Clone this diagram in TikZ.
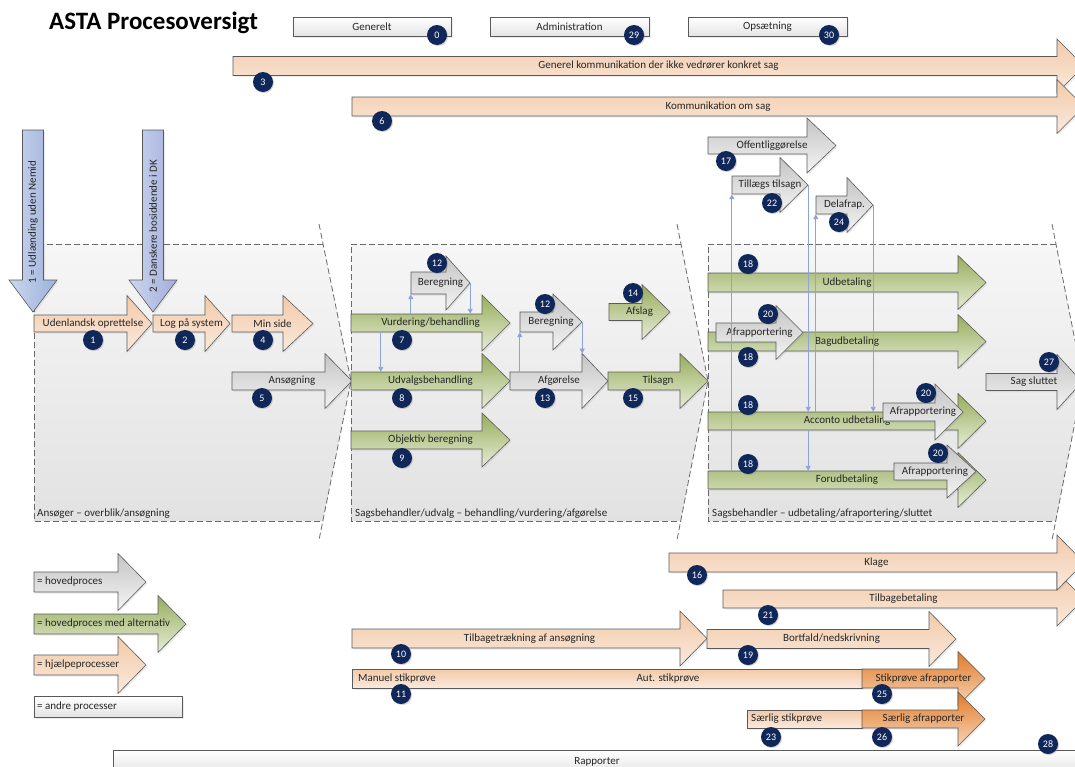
\documentclass[tikz,border=0pt]{standalone}
\usepackage{fontspec}
\setmainfont{Carlito}
\usetikzlibrary{arrows.meta,shadows}

\definecolor{peachT}{HTML}{F2CAA8}
\definecolor{peachB}{HTML}{FAE9DD}
\definecolor{grayT}{HTML}{C4C4C4}
\definecolor{grayB}{HTML}{F4F4F4}
\definecolor{greenT}{HTML}{97AD5C}
\definecolor{greenB}{HTML}{E6ECD6}
\definecolor{orangeT}{HTML}{E07A26}
\definecolor{orangeB}{HTML}{F7D5B8}
\definecolor{otherB}{HTML}{E4E4E4}
\definecolor{blueL}{HTML}{CBD7EE}
\definecolor{blueR}{HTML}{9DB0DA}
\definecolor{blueP}{HTML}{A4ACDA}
\definecolor{laneT}{HTML}{F6F6F6}
\definecolor{laneB}{HTML}{E2E2E2}
\definecolor{laneedge}{HTML}{6A6A6A}
\definecolor{edge}{HTML}{5A5A5A}
\definecolor{linkc}{HTML}{8DA3DA}
\definecolor{navy}{HTML}{10275A}
\definecolor{txt}{HTML}{262626}

\newcommand{\parrow}[9]{%
\draw[#1] (#3,#6-#7) -- (#4,#6-#7) -- (#4,#6-#8) -- (#5,#6) -- (#4,#6+#8) -- (#4,#6+#7) -- (#3,#6+#7) -- cycle;
\coordinate (#2-ht) at (#4,#6-#8);
\node[lbl, minimum width=#5-#3, minimum height=2*#7] (#2) at ({(#3+#5)/2},#6) {#9};
}

\begin{document}
\begin{tikzpicture}[x=1pt, y=-1pt,
  lbl/.style={inner sep=0pt, font=\fontsize{11}{13}\selectfont, text=txt},
  outline/.style={draw=edge, line width=0.6pt, drop shadow={opacity=0.15, shadow xshift=1.5pt, shadow yshift=-1.5pt}},
  hjaelp/.style={outline, top color=peachT, bottom color=peachB},
  hoved/.style={outline, top color=grayT, bottom color=grayB},
  alternativ/.style={outline, top color=greenT, bottom color=greenB},
  afrap/.style={outline, top color=orangeT, bottom color=orangeB},
  andre/.style={outline, top color=white, bottom color=otherB, lbl},
  entry/.style={outline, left color=blueL, right color=blueR},
  entryb/.style={outline, left color=blueL, right color=blueP},
  lanefill/.style={top color=laneT, bottom color=laneB},
  lane/.style={draw=laneedge, line width=0.8pt, dash pattern=on 6pt off 3pt},
  link/.style={draw=linkc, line width=0.9pt, -{Triangle[length=5pt,width=5pt]}},
  badge/.style={circle, fill=navy, text=white, inner sep=0pt, minimum size=20pt,
    font=\fontsize{10}{10}\selectfont, drop shadow={opacity=0.35, shadow xshift=1pt, shadow yshift=-1pt}}]
\useasboundingbox (0,0) rectangle (1075,766);
\clip (0,0) rectangle (1075,766);
\fill[white] (0,0) rectangle (1075,766);

\path[lanefill] (34,244) -- (323,244) -- (351,381) -- (323,521) -- (34,521) -- cycle;
\draw[lane] (323,244) -- (34,244) -- (34,521) -- (323,521);
\draw[lane] (319,224) -- (351,381) -- (319,540);
\path[lanefill] (351,244) -- (681,244) -- (708,381) -- (681,521) -- (351,521) -- cycle;
\draw[lane] (681,244) -- (351,244) -- (351,521) -- (681,521);
\draw[lane] (677,224) -- (708,381) -- (677,540);
\path[lanefill] (708,244) -- (1056,244) -- (1083,381) -- (1056,521) -- (708,521) -- cycle;
\draw[lane] (1056,244) -- (708,244) -- (708,521) -- (1056,521);
\draw[lane] (1052,224) -- (1083,381) -- (1052,540);
\node[lbl, anchor=west] (lane1) at (37,514) {Ansøger – overblik/ansøgning};
\node[lbl, anchor=west] (lane2) at (355,514) {Sagsbehandler/udvalg – behandling/vurdering/afgørelse};
\node[lbl, anchor=west] (lane3) at (712,514) {Sagsbehandler – udbetaling/afraportering/sluttet};

\node[anchor=west, inner sep=0pt, font=\fontsize{25}{30}\selectfont\bfseries] (title) at (49,23) {ASTA Procesoversigt};
\node[andre, minimum width=158, minimum height=19] (generelt) at (372,26.5) {Generelt};
\node[andre, minimum width=159, minimum height=19] (admin) at (569.5,26.5) {Administration};
\node[andre, minimum width=159, minimum height=19] (opsaet) at (767.5,26.5) {Opsætning};

\parrow{hjaelp}{genkom}{233}{1057}{1084}{66}{9.5}{27}{Generel kommunikation der ikke vedrører konkret sag}
\parrow{hjaelp}{komsag}{352}{1057}{1084}{106.5}{9.5}{27}{Kommunikation om sag}

\parrow{hjaelp}{udl}{34}{127}{152}{323.5}{8.5}{28}{Udenlandsk oprettelse}
\parrow{hjaelp}{log}{153}{205}{230}{323.5}{8.5}{28}{Log på system}
\parrow{hjaelp}{minside}{232}{283}{313}{323.5}{8.5}{28}{Min side}
\parrow{hoved}{ans}{232}{325}{352}{381}{9}{27.5}{Ansøgning}

\parrow{hoved}{ber1}{411}{446}{470}{283}{11}{27}{Beregning}
\parrow{alternativ}{vurd}{351}{482}{510}{323}{9}{28}{Vurdering/behandling}
\parrow{alternativ}{udv}{351}{482}{510}{381}{9}{27.5}{Udvalgsbehandling}
\parrow{alternativ}{obj}{351}{482}{510}{440}{9}{27}{Objektiv beregning}
\parrow{hoved}{ber2}{520}{553}{582}{322}{10}{28}{Beregning}
\parrow{hoved}{afg}{510}{582}{608}{381}{9}{27.5}{Afgørelse}
\parrow{alternativ}{afslag}{609}{642}{670}{312}{8.5}{27.5}{Afslag}
\parrow{alternativ}{tilsagn}{608}{680}{708}{381}{9}{27.5}{Tilsagn}

\parrow{hoved}{offentlig}{708}{807}{836}{145.5}{8.5}{27.5}{Offentliggørelse}
\parrow{hoved}{tillaeg}{732}{780}{808}{185}{9}{27.5}{Tillægs tilsagn}
\parrow{hoved}{delafrap}{816}{847}{873}{205}{9}{27.5}{Delafrap.}
\parrow{alternativ}{udb}{708}{958}{986}{282.5}{9.5}{27}{Udbetaling}
\parrow{alternativ}{bagud}{708}{958}{986}{341.5}{9.5}{27}{Bagudbetaling}
\parrow{hoved}{afrA}{716}{776}{803}{332.5}{9.5}{27}{Afrapportering}
\parrow{alternativ}{acc}{708}{958}{986}{421}{9}{27.5}{Acconto udbetaling}
\parrow{hoved}{afrB}{883}{935}{963}{412}{9}{28}{Afrapportering}
\parrow{alternativ}{forud}{708}{958}{986}{480}{9}{27.5}{Forudbetaling}
\parrow{hoved}{afrC}{894}{947}{976}{471.5}{8.5}{26.5}{Afrapportering}
\parrow{hoved}{sag}{986}{1057}{1082}{382}{8.5}{27.5}{Sag sluttet}

\parrow{hjaelp}{tilbbet}{723}{1057}{1084}{599}{9}{27}{Tilbagebetaling}
\parrow{hjaelp}{klage}{669}{1057}{1084}{562.5}{9.5}{27.5}{Klage}
\parrow{hjaelp}{tilbtr}{352}{680}{707}{638.5}{9.5}{27.5}{Tilbagetrækning af ansøgning}
\parrow{hjaelp}{bortfald}{707}{929}{956}{639}{9.5}{27.5}{Bortfald/nedskrivning}
\node[hjaelp, minimum width=510, minimum height=19, inner sep=0pt] (stik) at (607,678.5) {};
\node[lbl, anchor=west] (manuel) at (358,678.5) {Manuel stikprøve};
\node[lbl] (aut) at (668,678.5) {Aut. stikprøve};
\parrow{afrap}{stikaf}{862}{958}{985}{678.5}{9.5}{27}{Stikprøve afrapporter}
\node[hjaelp, minimum width=115, minimum height=18, inner sep=0pt] (saerlig) at (804.5,719) {};
\node[lbl, anchor=west] (saerligt) at (751,719) {Særlig stikprøve};
\parrow{afrap}{saeraf}{862}{958}{985}{719}{9}{27}{Særlig afrapporter}
\node[andre, minimum width=968, minimum height=24] (rapporter) at (597,762) {Rapporter};

\parrow{hoved}{leghov}{34}{118}{146}{582}{10}{28.5}{}
\node[lbl, anchor=west] (leghovt) at (37,582) {= hovedproces};
\parrow{alternativ}{legalt}{34}{158}{186}{624}{10}{28.5}{}
\node[lbl, anchor=west] (legaltt) at (37,624) {= hovedproces med alternativ};
\parrow{hjaelp}{leghj}{34}{118}{146}{665}{10}{28.5}{}
\node[lbl, anchor=west] (leghjt) at (37,665) {= hjælpeprocesser};
\node[andre, minimum width=148, minimum height=21] (legandre) at (108,706.5) {};
\node[lbl, anchor=west] (legandret) at (37,706.5) {= andre processer};

\draw[entry] (22.5,130) -- (43.5,130) -- (43.5,280) -- (57,280) -- (33,312) -- (9,280) -- (22.5,280) -- cycle;
\node[lbl, rotate=90] (nemid) at (33,222) {1 = Udlænding uden Nemid};
\draw[entryb] (142.5,130) -- (163.5,130) -- (163.5,280) -- (177,280) -- (153,312) -- (129,280) -- (142.5,280) -- cycle;
\node[lbl, rotate=90] (dk) at (153,226) {2 = Danskere bosiddende i DK};

\draw[link] (ber1.south west |- vurd.north) -- (ber1.south west);
\draw[link] (ber1.east) -- (ber1.east |- vurd.north);
\draw[link] ([xshift=30]vurd.south west) -- ([xshift=30]udv.north west);
\draw[link] (ber2.south west |- afg.north) -- (ber2.south west);
\draw[link] (ber2.east) -- (ber2.east |- afg-ht);
\draw[link] (tillaeg.south west |- forud.north) -- (tillaeg.south west);
\draw[link] (tillaeg.east) -- (tillaeg.east |- acc.north);
\draw[link] (tillaeg.east |- acc.south) -- (tillaeg.east |- forud.north);
\draw[link] (delafrap.south west |- acc.north) -- (delafrap.south west);
\draw[link] (delafrap.east) -- (delafrap.east |- acc.north);

\node[badge] (b0) at (437,35) {0};
\node[badge] (b29) at (634,35) {29};
\node[badge] (b30) at (829,35) {30};
\node[badge] (b3) at (263,82) {3};
\node[badge] (b6) at (382,121) {6};
\node[badge] (b1) at (93,340) {1};
\node[badge] (b2) at (185,340) {2};
\node[badge] (b4) at (263,340) {4};
\node[badge] (b5) at (262,398) {5};
\node[badge] (b12a) at (437,263) {12};
\node[badge] (b7) at (402,340) {7};
\node[badge] (b8) at (402,398) {8};
\node[badge] (b9) at (402,458) {9};
\node[badge] (b12b) at (545,304) {12};
\node[badge] (b13) at (545,398) {13};
\node[badge] (b14) at (633,293) {14};
\node[badge] (b15) at (633,398) {15};
\node[badge] (b17) at (726,161) {17};
\node[badge] (b22) at (772,203) {22};
\node[badge] (b24) at (839,222) {24};
\node[badge] (b18a) at (748,264) {18};
\node[badge] (b20a) at (768,314) {20};
\node[badge] (b18b) at (748,357) {18};
\node[badge] (b18c) at (748,405) {18};
\node[badge] (b20b) at (926,393) {20};
\node[badge] (b18d) at (748,464) {18};
\node[badge] (b20c) at (938,453) {20};
\node[badge] (b27) at (1049,362) {27};
\node[badge] (b16) at (697,575) {16};
\node[badge] (b21) at (768,615) {21};
\node[badge] (b10) at (401,654) {10};
\node[badge] (b19) at (748,655) {19};
\node[badge] (b11) at (401,694) {11};
\node[badge] (b25) at (882,694) {25};
\node[badge] (b23) at (771,737) {23};
\node[badge] (b26) at (882,737) {26};
\node[badge] (b28) at (1048,744) {28};
\end{tikzpicture}
\end{document}
